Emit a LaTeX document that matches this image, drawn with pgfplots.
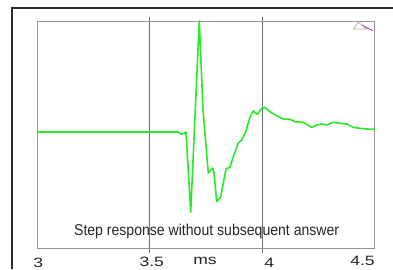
\documentclass[border=0pt]{standalone}
\usepackage{pgfplots}
\pgfplotsset{compat=1.18}
\usepackage{graphicx}
\usepackage{fontspec}
\setmainfont{Liberation Sans}
\definecolor{curve}{RGB}{40,235,40}
\definecolor{frameg}{RGB}{150,150,150}
\definecolor{gridg}{RGB}{110,110,110}
\definecolor{outer}{RGB}{45,45,45}
\begin{document}
\begin{tikzpicture}[x=1pt,y=1pt]
\useasboundingbox (0,0) rectangle (393,269);
\fill[white] (0,0) rectangle (393,269);
\draw[outer,line width=1.6pt] (12,0) -- (12,261) -- (393,261);
\begin{axis}[
  at={(37pt,21pt)}, anchor=south west,
  scale only axis, width=337.5pt, height=227pt,
  xmin=3, xmax=4.5, ymin=-116, ymax=111,
  axis line style={frameg, line width=1pt},
  xtick={3.5,4}, xticklabels={},
  ytick=\empty,
  tick align=outside, major tick length=4.5pt,
  xtick style={gridg, line width=0.8pt},
  xmajorgrids, grid style={gridg, line width=0.8pt},
  clip=false,
]
\addplot[curve, line width=1.6pt, line join=round] coordinates {
(3,0) (3.6267,0) (3.64,-2) (3.6533,-1.5) (3.6622,0) (3.6831,-80)
(3.7213,111) (3.7378,22) (3.7613,-41) (3.7809,-36) (3.7867,-41)
(3.7987,-69.7) (3.8164,-65) (3.84,-37) (3.8578,-35) (3.8724,-24.7)
(3.8947,-11) (3.9098,-8) (3.9289,1) (3.9467,15) (3.9613,21)
(3.9791,17.7) (3.9987,23.7) (4.0133,24.3) (4.0356,20.3) (4.0653,16.3)
(4.0947,13) (4.1244,12.7) (4.1467,10.3) (4.1836,9.7) (4.2209,4.7)
(4.2431,7) (4.2653,8) (4.2876,7) (4.3169,9.7) (4.3467,8.7)
(4.3764,8) (4.4058,4.7) (4.4356,3.7) (4.4653,3) (4.5,2.7)
};
\node[font=\fontsize{14.5}{16}\selectfont, text=black!85] at (axis cs:3.7540,-99.7) {\scalebox{0.97}[1.08]{Step response without subsequent answer}};
\end{axis}
\begin{scope}[font=\fontsize{13.5}{14}\selectfont, text=black!85]
\node at (38.3,6.3) {\scalebox{1.3}[1]{3}};
\node at (151.7,6.8) {\scalebox{1.3}[1]{3.5}};
\node at (205,8.5) {\scalebox{1.3}[1]{ms}};
\node at (269.3,6) {\scalebox{1.3}[1]{4}};
\node at (362.5,8.3) {\scalebox{1.3}[1]{4.5}};
\end{scope}
\draw[gray!70, line width=0.6pt] (353.3,240) -- (358.3,246.7) -- (366.7,240) -- cycle;
\draw[violet!70, line width=0.9pt] (361.7,244) -- (372.7,238.3);
\end{tikzpicture}
\end{document}
